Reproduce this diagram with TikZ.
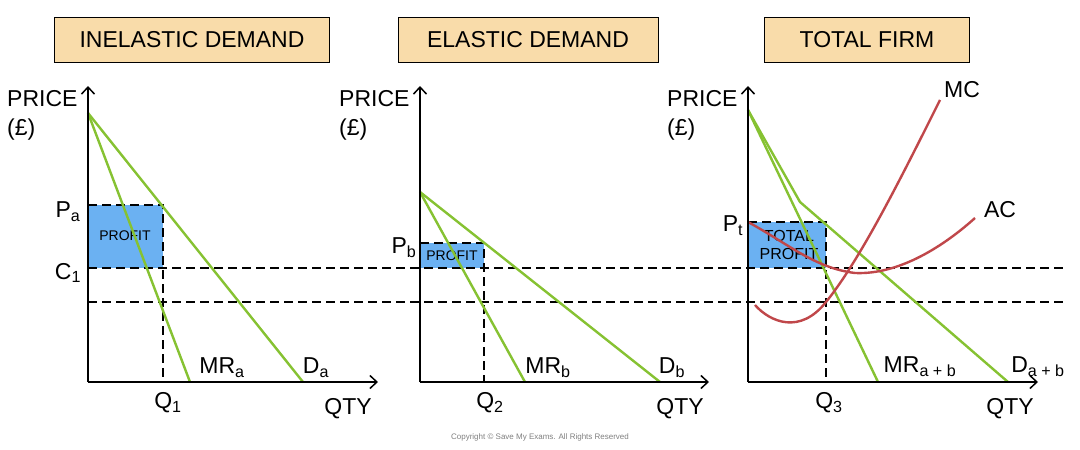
\documentclass[tikz,border=0pt]{standalone}
\usepackage{fontspec}
\setmainfont{Liberation Sans}
\usetikzlibrary{arrows.meta}
\definecolor{gr}{HTML}{86C232}
\definecolor{bl}{HTML}{6BB1F2}
\definecolor{rd}{HTML}{C0474A}
\definecolor{tan}{HTML}{F9DCAA}
\newcommand\sbs[1]{\textsubscript{#1}}
\tikzset{
 ax/.style={line width=1.5pt,-{Straight Barb[length=7pt,width=13pt]}},
 gl/.style={gr,line width=2.4pt},
 rl/.style={rd,line width=2.4pt},
 dl/.style={dash pattern=on 9pt off 5pt,line width=1.2pt},
 ttl/.style={draw,line width=1pt,fill=tan,font=\fontsize{23}{25}\selectfont,inner sep=0pt,anchor=center},
 lab/.style={font=\fontsize{23}{25}\selectfont,inner sep=0pt},
 box/.style={fill=bl},
}
\begin{document}
\begin{tikzpicture}[x=1pt,y=-1pt]
\useasboundingbox (0,0) rectangle (1080,450);
\fill[white] (0,0) rectangle (1080,450);
% titles
\node[ttl,minimum width=275pt,minimum height=45pt] (t1) at (192,40) {INELASTIC DEMAND};
\node[ttl,minimum width=260pt,minimum height=45pt] (t2) at (528,40) {ELASTIC DEMAND};
\node[ttl,minimum width=205pt,minimum height=45pt] (t3) at (867,40) {TOTAL FIRM};
% boxes
\fill[box] (88,205) rectangle (163,268);
\fill[box] (420,243) rectangle (484,268);
\fill[box] (748,222) rectangle (826,268);
\node[font=\fontsize{14}{15}\selectfont] (pr1) at (125,236) {PROFIT};
\node[font=\fontsize{14}{15}\selectfont] (pr2) at (452,256) {PROFIT};
\node[font=\fontsize{16}{18}\selectfont,align=center,inner sep=0pt] (pr3) at (789,245) {TOTAL\\PROFIT};
% dashed
\draw[dl] (88,268) -- (1065,268);
\draw[dl] (88,302) -- (1065,302);
\draw[dl] (88,205) -- (163,205) -- (163,382);
\draw[dl] (420,243) -- (484,243) -- (484,382);
\draw[dl] (748,222) -- (826,222) -- (826,382);
% curves
\draw[gl] (88,113) -- (190,382);
\draw[gl] (88,113) -- (303,382);
\draw[gl] (420,192) -- (525,382);
\draw[gl] (420,192) -- (660,382);
\draw[gl] (748,110) -- (878,382);
\draw[gl] (748,110) -- (800,202) -- (1008,382);
\draw[rl] (755,305) .. controls (770,322) and (800,335) .. (826,302) .. controls (860,260) and (900,180) .. (940,100);
\draw[rl] (748,222) .. controls (790,245) and (815,268) .. (855,273) .. controls (900,275) and (945,245) .. (975,218);
% axes
\draw[ax] (88,382) -- (88,86);
\draw[ax] (88,382) -- (378,382);
\draw[ax] (420,382) -- (420,86);
\draw[ax] (420,382) -- (709,382);
\draw[ax] (748,382) -- (748,86);
\draw[ax] (748,382) -- (1038,382);
% labels
\foreach \x/\n in {0/a,332/b,660/c}{
 \node[lab,anchor=west] (price\n) at (\x+7,99) {PRICE};
 \node[lab,anchor=west] (pound\n) at (\x+7,130) {(£)};
}
\node[lab] (pa) at (68,212) {P\sbs{a}};
\node[lab] (c1) at (68,273) {C\sbs{1}};
\node[lab] (q1) at (168,403) {Q\sbs{1}};
\node[lab] (mra) at (222,368) {MR\sbs{a}};
\node[lab] (da) at (316,368) {D\sbs{a}};
\node[lab] (qty1) at (348,409) {QTY};
\node[lab] (pb) at (404,248) {P\sbs{b}};
\node[lab] (q2) at (490,403) {Q\sbs{2}};
\node[lab] (mrb) at (548,368) {MR\sbs{b}};
\node[lab] (db) at (672,368) {D\sbs{b}};
\node[lab] (qty2) at (680,409) {QTY};
\node[lab] (pt) at (733,226) {P\sbs{t}};
\node[lab] (q3) at (829,403) {Q\sbs{3}};
\node[lab] (mrab) at (920,367) {MR\sbs{a + b}};
\node[lab] (dab) at (1038,367) {D\sbs{a + b}};
\node[lab] (qty3) at (1010,409) {QTY};
\node[lab] (mc) at (962,90) {MC};
\node[lab] (ac) at (1000,210) {AC};
\node[font=\fontsize{8}{9}\selectfont,text=gray] (copy) at (540,437) {Copyright © Save My Exams. All Rights Reserved};
\end{tikzpicture}
\end{document}
